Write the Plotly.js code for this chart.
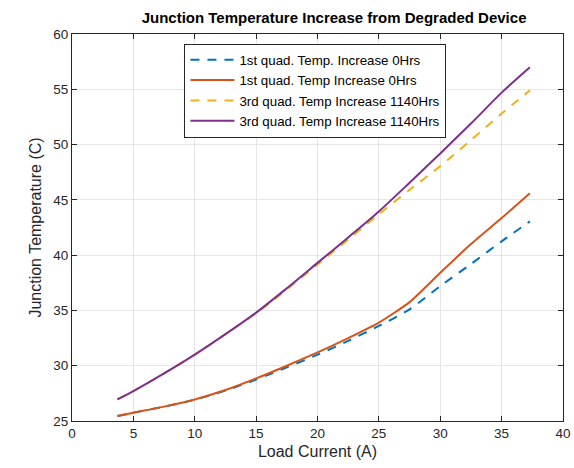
<!DOCTYPE html>
<html>
<head>
<meta charset="utf-8">
<script src="https://cdn.plot.ly/plotly-3.0.1.min.js"></script>
<style>
  html, body { margin: 0; padding: 0; background: #ffffff; }
  #chart { width: 574px; height: 468px; }
</style>
</head>
<body>
<div id="chart"></div>
<script>
// Load current (A)
const loadCurrent = [3.7, 5, 7.5, 10, 12.5, 15, 17.5, 20, 22.5, 25, 27.5, 30, 32.5, 35, 37.3];

// Junction temperature (C)
const q1Temp0HrsDashed = [25.45, 25.75, 26.3, 26.93, 27.75, 28.75, 29.85, 31.0, 32.25, 33.6, 35.1, 37.2, 39.2, 41.25, 43.05];
const q1Temp0HrsSolid  = [25.45, 25.75, 26.3, 26.95, 27.8, 28.85, 30.0, 31.2, 32.5, 33.9, 35.75, 38.4, 41.0, 43.35, 45.6];
const q3Temp1140Dashed = [26.95, 27.7, 29.3, 31.0, 32.85, 34.75, 36.9, 39.15, 41.4, 43.7, 45.9, 48.05, 50.4, 52.8, 54.9];
const q3Temp1140Solid  = [26.95, 27.7, 29.3, 31.0, 32.85, 34.8, 37.0, 39.3, 41.6, 43.95, 46.55, 49.2, 51.9, 54.7, 57.0];

const seriesNames = [
  '1st quad. Temp. Increase 0Hrs',
  '1st quad. Temp Increase 0Hrs',
  '3rd quad. Temp Increase 1140Hrs',
  '3rd quad. Temp Increase 1140Hrs'
];

const xTicks = [0, 5, 10, 15, 20, 25, 30, 35, 40];
const yTicks = [25, 30, 35, 40, 45, 50, 55, 60];

const FONT = 'Liberation Sans, Arial, sans-serif';
const dashStyle = '9px,8px';
const lw = 2;

const traces = [
  { x: loadCurrent, y: q1Temp0HrsDashed, name: seriesNames[0],
    line: { color: '#0072BD', width: lw, dash: dashStyle, shape: 'spline', smoothing: 0.8 } },
  { x: loadCurrent, y: q1Temp0HrsSolid, name: seriesNames[1],
    line: { color: '#D95319', width: lw, shape: 'spline', smoothing: 0.6 } },
  { x: loadCurrent, y: q3Temp1140Dashed, name: seriesNames[2],
    line: { color: '#EDB120', width: lw, dash: dashStyle, shape: 'spline', smoothing: 0.8 } },
  { x: loadCurrent, y: q3Temp1140Solid, name: seriesNames[3],
    line: { color: '#7E2F8E', width: lw, shape: 'spline', smoothing: 0.8 } }
].map(t => Object.assign({ type: 'scatter', mode: 'lines' }, t));

const axisCommon = {
  showline: true,
  linecolor: '#262626',
  linewidth: 1,
  mirror: 'ticks',
  ticks: 'inside',
  ticklen: 5,
  tickwidth: 1,
  tickcolor: '#262626',
  showgrid: true,
  gridcolor: '#e6e6e6',
  gridwidth: 1,
  zeroline: false,
  tickfont: { family: FONT, size: 13.5, color: '#262626' }
};

const layout = {
  width: 574,
  height: 468,
  paper_bgcolor: '#ffffff',
  plot_bgcolor: '#ffffff',
  margin: { l: 72, r: 11, t: 34, b: 47 },
  title: {
    text: '<b>Junction Temperature Increase from Degraded Device</b>',
    font: { family: FONT, size: 15, color: '#000000' },
    x: 0.582, xanchor: 'center',
    y: 0.962, yanchor: 'middle'
  },
  xaxis: Object.assign({}, axisCommon, {
    range: [0, 40],
    tickvals: xTicks,
    title: { text: 'Load Current (A)', standoff: 5,
             font: { family: FONT, size: 16, color: '#262626' } }
  }),
  yaxis: Object.assign({}, axisCommon, {
    range: [25, 60],
    tickvals: yTicks,
    title: { text: 'Junction Temperature (C)', standoff: 7,
             font: { family: FONT, size: 16, color: '#262626' } }
  }),
  showlegend: true,
  legend: {
    x: 0.229, xanchor: 'left',
    y: 0.975, yanchor: 'top',
    bgcolor: '#ffffff',
    bordercolor: '#262626',
    borderwidth: 1,
    font: { family: FONT, size: 13.3, color: '#000000' },
    tracegroupgap: 0,
    itemwidth: 44
  }
};

Plotly.newPlot('chart', traces, layout, { displayModeBar: false, staticPlot: true });
</script>
</body>
</html>
